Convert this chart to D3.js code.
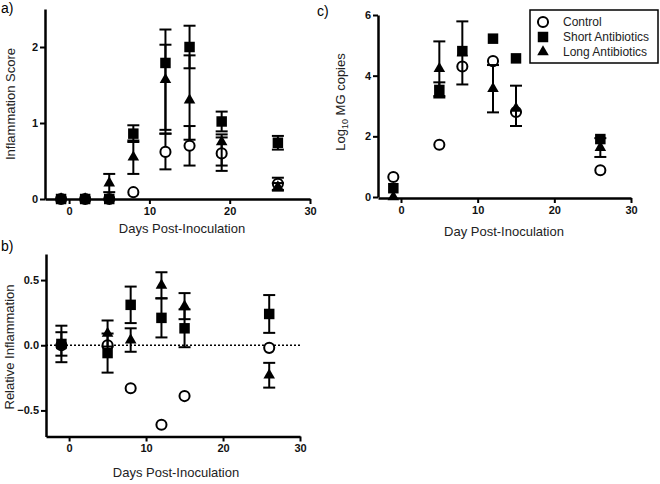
<!DOCTYPE html>
<html>
<head>
<meta charset="utf-8">
<script src="https://cdn.jsdelivr.net/npm/d3@7"></script>
<style>
  body { margin: 0; background: #fff; }
  svg { font-family: "Liberation Sans", Arial, sans-serif; }
  .tick text { font-weight: bold; font-size: 11px; fill: #111; }
  .title { font-size: 13px; fill: #222; }
</style>
</head>
<body>
<svg id="chart" width="660" height="484"></svg>
<script>
// panel a: inflammation score
const daysA = [-1, 2, 5, 8, 12, 15, 19, 26];
const controlA = [0, 0, 0, 0.09, 0.62, 0.70, 0.60, 0.20];
const controlAUp = [0, 0, 0, 0, 0.24, 0.26, 0.21, 0.08];
const controlADown = [0, 0, 0, 0, 0.23, 0.26, 0.16, 0.08];
const shortA = [0, 0, 0, 0.86, 1.79, 2.0, 1.02, 0.74];
const shortAUp = [0, 0, 0, 0.11, 0.44, 0.28, 0.13, 0.09];
const shortADown = [0, 0, 0, 0.11, 0.88, 0.28, 0.13, 0.09];
const longA = [0, 0, 0.21, 0.55, 1.57, 1.30, 0.75, 0.16];
const longAUp = [0, 0, 0.12, 0.22, 0.46, 0.59, 0.10, 0.05];
const longADown = [0, 0, 0.12, 0.22, 0.71, 0.52, 0.38, 0.05];

// panel b: relative inflammation
const daysB = [-1, 5, 8, 12, 15, 26];
const controlB = [0, 0, -0.33, -0.61, -0.39, -0.02];
const shortB = [0.01, -0.06, 0.31, 0.21, 0.13, 0.24];
const shortBErr = [0.14, 0.15, 0.14, 0.15, 0.145, 0.145];
const longB = [0.01, 0.09, 0.04, 0.46, 0.30, -0.23];
const longBErr = [0.09, 0.10, 0.09, 0.10, 0.10, 0.095];

// panel c: log10 MG copies
const daysC = [-1, 5, 8, 12, 15, 26];
const controlC = [0.66, 1.72, 4.30, 4.48, 2.80, 0.88];
const shortC = [0.29, 3.53, 4.81, 5.22, 4.57, 1.91];
const shortCUp = [0, 0.25, 0.98, 0, 0, 0];
const shortCDown = [0, 0.25, 1.10, 0, 0, 0];
const longC = [0.0, 4.23, 4.75, 3.57, 2.92, 1.63];
const longCUp = [0, 0.9, 0, 0.78, 0.75, 0.31];
const longCDown = [0, 0.9, 0, 0.78, 0.58, 0.31];

const seriesNames = ['Control', 'Short Antibiotics', 'Long Antibiotics'];
const xTicks = [0, 10, 20, 30];

const svg = d3.select('#chart');

function symbolPath(kind) {
  if (kind === 'circle') return d3.symbol(d3.symbolCircle, 80)();
  if (kind === 'square') return d3.symbol(d3.symbolSquare, 110)();
  return d3.symbol(d3.symbolTriangle, 58)();
}

function drawSeries(g, x, y, days, vals, up, down, kind) {
  const pts = days.map((d, i) => ({d, v: vals[i], up: up ? up[i] : 0, down: down ? down[i] : 0}));
  const eb = g.append('g')
    .selectAll('g')
    .data(pts.filter(p => p.up > 0 || p.down > 0))
    .join('g')
      .attr('stroke', '#000')
      .attr('stroke-width', 2);
  eb.append('line')
    .attr('x1', p => x(p.d)).attr('x2', p => x(p.d))
    .attr('y1', p => y(p.v + p.up)).attr('y2', p => y(p.v - p.down));
  eb.filter(p => p.up > 0).append('line')
    .attr('x1', p => x(p.d) - 6).attr('x2', p => x(p.d) + 6)
    .attr('y1', p => y(p.v + p.up)).attr('y2', p => y(p.v + p.up));
  eb.filter(p => p.down > 0).append('line')
    .attr('x1', p => x(p.d) - 6).attr('x2', p => x(p.d) + 6)
    .attr('y1', p => y(p.v - p.down)).attr('y2', p => y(p.v - p.down));
  g.append('g')
    .selectAll('path')
    .data(pts)
    .join('path')
      .attr('d', symbolPath(kind))
      .attr('transform', p => `translate(${x(p.d)},${y(p.v)})`)
      .attr('fill', kind === 'circle' ? '#fff' : '#000')
      .attr('stroke', '#000')
      .attr('stroke-width', kind === 'circle' ? 2 : 0);
}

function axes(x, y, yTicks, yFmt, xAxisY) {
  const g = svg.append('g');
  const xa = g.append('g')
    .attr('transform', `translate(0,${xAxisY})`)
    .call(d3.axisBottom(x).tickValues(xTicks).tickSize(5).tickSizeOuter(0).tickPadding(3));
  const ya = g.append('g')
    .attr('transform', `translate(${x.range()[0]},0)`)
    .call(d3.axisLeft(y).tickValues(yTicks).tickFormat(yFmt).tickSize(5).tickSizeOuter(0).tickPadding(2));
  [xa, ya].forEach(a => {
    a.select('.domain').attr('stroke-width', 2.5);
    a.selectAll('.tick line').attr('stroke-width', 2);
  });
  return g;
}

// ---- panel a
const xa = d3.scaleLinear().domain([-3, 30]).range([45, 310]);
const ya = d3.scaleLinear().domain([0, 2.5]).range([199, 9]);
axes(xa, ya, [0, 1, 2], d3.format('d'), 199);
const ga = svg.append('g');
drawSeries(ga, xa, ya, daysA, controlA, controlAUp, controlADown, 'circle');
drawSeries(ga, xa, ya, daysA, shortA, shortAUp, shortADown, 'square');
drawSeries(ga, xa, ya, daysA, longA, longAUp, longADown, 'triangle');

// ---- panel b
const xb = d3.scaleLinear().domain([-3, 30]).range([46, 300]);
const yb = d3.scaleLinear().domain([-0.7, 0.7]).range([436.5, 254]);
axes(xb, yb, [-0.5, 0, 0.5], d3.format('.1f'), 436.5);
svg.append('line')
  .attr('x1', xb(-3)).attr('x2', xb(30))
  .attr('y1', yb(0)).attr('y2', yb(0))
  .attr('stroke', '#000').attr('stroke-width', 1.5)
  .attr('stroke-dasharray', '2,2');
const gb = svg.append('g');
drawSeries(gb, xb, yb, daysB, controlB, null, null, 'circle');
drawSeries(gb, xb, yb, daysB, shortB, shortBErr, shortBErr, 'square');
drawSeries(gb, xb, yb, daysB, longB, longBErr, longBErr, 'triangle');

// ---- panel c
const xc = d3.scaleLinear().domain([-3, 30]).range([378, 631]);
const yc = d3.scaleLinear().domain([0, 6]).range([197, 15]);
axes(xc, yc, [0, 2, 4, 6], d3.format('d'), 198);
const gc = svg.append('g');
drawSeries(gc, xc, yc, daysC, controlC, null, null, 'circle');
drawSeries(gc, xc, yc, daysC, shortC, shortCUp, shortCDown, 'square');
drawSeries(gc, xc, yc, daysC, longC, longCUp, longCDown, 'triangle');

// legend
const lg = svg.append('g');
lg.append('rect')
  .attr('x', 530).attr('y', 10).attr('width', 128).attr('height', 53)
  .attr('fill', '#fff').attr('stroke', '#000').attr('stroke-width', 1.5);
['circle', 'square', 'triangle'].forEach((k, i) => {
  lg.append('path')
    .attr('d', symbolPath(k))
    .attr('transform', `translate(543,${22 + i * 15})`)
    .attr('fill', k === 'circle' ? '#fff' : '#000')
    .attr('stroke', '#000')
    .attr('stroke-width', k === 'circle' ? 2 : 0);
  lg.append('text')
    .attr('x', 563).attr('y', 26 + i * 15)
    .attr('font-size', 12).attr('fill', '#222')
    .text(seriesNames[i]);
});

// titles
svg.append('text').attr('class', 'title').attr('x', 182).attr('y', 233)
  .attr('text-anchor', 'middle').text('Days Post-Inoculation');
svg.append('text').attr('class', 'title').attr('x', 176).attr('y', 477)
  .attr('text-anchor', 'middle').text('Days Post-Inoculation');
svg.append('text').attr('class', 'title').attr('x', 504).attr('y', 236)
  .attr('text-anchor', 'middle').text('Day Post-Inoculation');
svg.append('text').attr('class', 'title')
  .attr('transform', 'translate(15,104) rotate(-90)')
  .attr('text-anchor', 'middle').text('Inflammation Score');
svg.append('text').attr('class', 'title')
  .attr('transform', 'translate(14,347) rotate(-90)')
  .attr('text-anchor', 'middle').text('Relative Inflammation');
const lc = svg.append('text').attr('class', 'title')
  .attr('transform', 'translate(345,102) rotate(-90)')
  .attr('text-anchor', 'middle');
lc.append('tspan').text('Log');
lc.append('tspan').attr('font-size', 9).attr('dy', 3).text('10');
lc.append('tspan').attr('dy', -3).text(' MG copies');

// panel letters
svg.append('text').attr('x', 1).attr('y', 13).attr('font-size', 14).text('a)');
svg.append('text').attr('x', 1).attr('y', 251).attr('font-size', 14).text('b)');
svg.append('text').attr('x', 317).attr('y', 16).attr('font-size', 14).text('c)');
</script>
</body>
</html>
